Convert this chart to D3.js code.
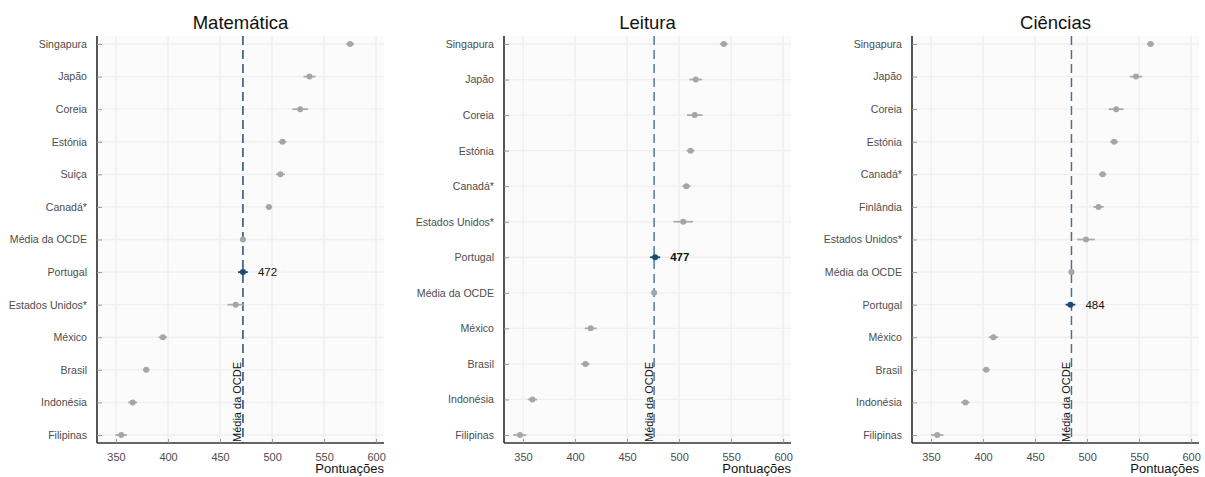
<!DOCTYPE html>
<html>
<head>
<meta charset="utf-8">
<script src="https://cdn.jsdelivr.net/npm/d3@7/dist/d3.min.js"></script>
<style>
  body { margin: 0; background: #fff; }
  svg { display: block; font-family: "Liberation Sans", Arial, sans-serif; }
  .y-axis text { fill: #4d4d4d; font-size: 10.6px; }
  .x-axis text { fill: #4d4d4d; font-size: 11px; }
  .y-axis .domain { stroke: #555; stroke-width: 2; }
  .x-axis .domain { stroke: #333; stroke-width: 1.5; }
  .tick line { stroke: #999; }
</style>
</head>
<body>
<svg id="chart" width="1205" height="477"></svg>
<script>
'use strict';

// PISA 2022 – pontuações médias e intervalos (±1.96 EP)
const matCountries = ['Singapura', 'Japão', 'Coreia', 'Estónia', 'Suiça', 'Canadá*', 'Média da OCDE',
  'Portugal', 'Estados Unidos*', 'México', 'Brasil', 'Indonésia', 'Filipinas'];
const matScores = [575, 536, 527, 510, 508, 497, 472, 472, 465, 395, 379, 366, 355];
const matCI = [3.7, 5.7, 7.6, 3.9, 4.3, 3.1, 0.8, 4.7, 7.8, 4.1, 3.1, 4.3, 5.5];

const readCountries = ['Singapura', 'Japão', 'Coreia', 'Estónia', 'Canadá*', 'Estados Unidos*',
  'Portugal', 'Média da OCDE', 'México', 'Brasil', 'Indonésia', 'Filipinas'];
const readScores = [543, 516, 515, 511, 507, 504, 477, 476, 415, 410, 359, 347];
const readCI = [3.7, 6.1, 7.4, 3.7, 3.9, 9.4, 4.9, 0.8, 5.7, 4.1, 4.5, 6.3];

const sciCountries = ['Singapura', 'Japão', 'Coreia', 'Estónia', 'Canadá*', 'Finlândia', 'Estados Unidos*',
  'Média da OCDE', 'Portugal', 'México', 'Brasil', 'Indonésia', 'Filipinas'];
const sciScores = [561, 547, 528, 526, 515, 511, 499, 485, 484, 410, 403, 383, 356];
const sciCI = [3.3, 5.9, 7.1, 3.7, 3.5, 4.9, 8.4, 0.8, 4.7, 4.5, 3.5, 4.1, 5.9];

const titles = ['Matemática', 'Leitura', 'Ciências'];
const xTicks = [350, 400, 450, 500, 550, 600];

const panels = [
  { title: titles[0], countries: matCountries, scores: matScores, ci: matCI, left: 97, lineColor: '#234c75' },
  { title: titles[1], countries: readCountries, scores: readScores, ci: readCI, left: 504, lineColor: '#4a7aa6' },
  { title: titles[2], countries: sciCountries, scores: sciScores, ci: sciCI, left: 912, lineColor: '#4a6f94' }
];

const svg = d3.select('#chart');
const plotW = 287;
const plotTop = 36, plotBottom = 443;

panels.forEach(p => {
  const g = svg.append('g').attr('transform', `translate(${p.left}, 0)`);

  const x = d3.scaleLinear().domain([331.7, 607.6]).range([0, plotW]);
  const y = d3.scalePoint().domain(p.countries).range([44, 435]);

  const rows = p.countries.map((c, i) => ({ country: c, score: p.scores[i], ci: p.ci[i] }));
  const oecd = rows.find(d => d.country === 'Média da OCDE').score;

  g.append('rect')
      .attr('x', 0).attr('y', plotTop)
      .attr('width', plotW).attr('height', plotBottom - plotTop)
      .attr('fill', '#fbfbfb');

  // grid
  g.selectAll('.vgrid').data(xTicks).join('line')
      .attr('x1', d => x(d)).attr('x2', d => x(d))
      .attr('y1', plotTop).attr('y2', plotBottom)
      .attr('stroke', '#ededed').attr('stroke-width', 1.3);
  g.selectAll('.hgrid').data(p.countries).join('line')
      .attr('x1', 0).attr('x2', plotW)
      .attr('y1', d => y(d)).attr('y2', d => y(d))
      .attr('stroke', '#efefef').attr('stroke-width', 1.3);

  g.append('text')
      .attr('x', plotW / 2).attr('y', 29)
      .attr('text-anchor', 'middle')
      .attr('font-size', 18.5).attr('fill', '#111')
      .text(p.title);

  // OECD reference line
  g.append('line')
      .attr('x1', x(oecd)).attr('x2', x(oecd))
      .attr('y1', plotTop).attr('y2', plotBottom)
      .attr('stroke', p.lineColor).attr('stroke-width', 1.5)
      .attr('stroke-dasharray', '9,5');

  g.append('text')
      .attr('transform', `translate(${x(oecd) - 1.5}, ${plotBottom - 1}) rotate(-90)`)
      .attr('font-size', 11).attr('fill', '#111')
      .text('Média da OCDE');

  // error bars + points
  const pts = g.selectAll('.pt').data(rows).join('g');
  pts.append('line')
      .attr('x1', d => x(d.score - d.ci)).attr('x2', d => x(d.score + d.ci))
      .attr('y1', d => y(d.country)).attr('y2', d => y(d.country))
      .attr('stroke', d => d.country === 'Portugal' ? '#1a4a74' : '#ababab')
      .attr('stroke-width', 1.8);
  pts.append('circle')
      .attr('cx', d => x(d.score)).attr('cy', d => y(d.country))
      .attr('r', 3)
      .attr('fill', d => d.country === 'Portugal' ? '#1a4a74' : '#a6a6a6');

  const pt = rows.find(d => d.country === 'Portugal');
  g.append('text')
      .attr('x', x(pt.score) + 15).attr('y', y('Portugal') + 4)
      .attr('font-size', 11.5).attr('fill', '#111')
      .attr('font-weight', p.title === 'Leitura' ? 'bold' : 'normal')
      .text(pt.score);

  const yAxis = d3.axisLeft(y).tickSize(-5).tickPadding(10);
  g.append('g').attr('class', 'y-axis')
      .call(yAxis)
      .call(s => s.select('.domain').attr('d', `M0,${plotTop}V${plotBottom}`));

  const xAxis = d3.axisBottom(x).tickValues(xTicks).tickSize(-4).tickPadding(10);
  g.append('g').attr('class', 'x-axis')
      .attr('transform', `translate(0, ${plotBottom})`)
      .call(xAxis)
      .call(s => s.select('.domain').attr('d', `M0,0H${plotW}`));

  g.append('text')
      .attr('x', plotW).attr('y', 473)
      .attr('text-anchor', 'end')
      .attr('font-size', 13).attr('fill', '#111')
      .text('Pontuações');
});
</script>
</body>
</html>
